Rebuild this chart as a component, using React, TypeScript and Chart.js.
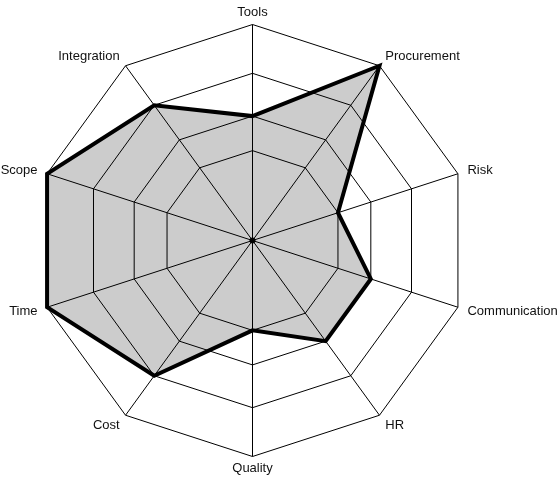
import React, { useEffect, useRef } from "react";
import { Chart, registerables, RadialLinearScale } from "chart.js";

Chart.register(...registerables);

// ---- data ----
const categories: string[] = [
  "Tools",
  "Procurement",
  "Risk",
  "Communication",
  "HR",
  "Quality",
  "Cost",
  "Time",
  "Scope",
  "Integration",
];
const scores: number[] = [2, 4, 1, 2, 2, 1, 3, 4, 4, 3];
const levelTicks: number[] = [0, 1, 2, 3, 4];

// ---- scale geometry (relative ring spacing of the levels, as drawn) ----
const RING_FRACTIONS = [0, 0.416, 0.576, 0.774, 1];
const CENTER_X = 252.5;
const CENTER_Y = 240.5;
const RADIUS = 216;
const LABEL_DX = 10;
const LABEL_DY = 12;

class LevelRadialScale extends RadialLinearScale {
  static id = "radialLevel";
  static defaults = RadialLinearScale.defaults;

  setCenterPoint() {
    (this as any).xCenter = (this as any).left + CENTER_X;
    (this as any).yCenter = (this as any).top + CENTER_Y;
    (this as any).drawingArea = RADIUS;
  }

  getDistanceFromCenterForValue(value: number) {
    if (value === null || value === undefined || isNaN(value)) return NaN;
    const fr = RING_FRACTIONS;
    const v = Math.max(0, Math.min(fr.length - 1, value));
    const i = Math.min(Math.floor(v), fr.length - 2);
    const t = v - i;
    return (fr[i] + (fr[i + 1] - fr[i]) * t) * (this as any).drawingArea;
  }

  fit() {
    super.fit();
    const self: any = this;
    const items = self._pointLabelItems;
    if (!items) return;
    const size = self.options.pointLabels.font.size || 13;
    const lh = size * 1.2;
    for (let i = 0; i < items.length; i++) {
      const a = self.getIndexAngle(i);
      const p = self.getPointPosition(i, self.drawingArea);
      const s = Math.sin(a);
      const c = Math.cos(a);
      const x = p.x + s * LABEL_DX;
      const mid = p.y - c * LABEL_DY;
      items[i].x = x;
      items[i].y = mid - lh / 2;
      items[i].textAlign = Math.abs(s) < 0.01 ? "center" : s > 0 ? "left" : "right";
      items[i].visible = true;
    }
  }
}
Chart.register(LevelRadialScale as any);

const centerDot = {
  id: "centerDot",
  afterDatasetsDraw(chart: any) {
    const s = chart.scales.r;
    const ctx = chart.ctx;
    ctx.save();
    ctx.beginPath();
    ctx.arc(s.xCenter, s.yCenter, 3, 0, Math.PI * 2);
    ctx.fillStyle = "#000";
    ctx.fill();
    ctx.restore();
  },
};

export default function App() {
  const ref = useRef<HTMLCanvasElement | null>(null);

  useEffect(() => {
    if (!ref.current) return;
    const chart = new Chart(ref.current, {
      type: "radar",
      data: {
        labels: categories,
        datasets: [
          {
            data: scores,
            backgroundColor: "rgba(0,0,0,0.2)",
            borderColor: "#000",
            borderWidth: 4,
            borderJoinStyle: "miter",
            pointRadius: 0,
            pointHoverRadius: 0,
            fill: true,
            tension: 0,
          },
        ],
      },
      options: {
        animation: false,
        responsive: false,
        devicePixelRatio: 1,
        layout: { padding: 0 },
        plugins: {
          legend: { display: false },
          tooltip: { enabled: false },
        },
        scales: {
          r: {
            type: "radialLevel" as any,
            min: 0,
            max: 4,
            afterBuildTicks: (scale: any) => {
              scale.ticks = levelTicks.map((v) => ({ value: v }));
            },
            ticks: { display: false, stepSize: 1 },
            grid: { color: "#000", lineWidth: 1 },
            angleLines: { display: true, color: "#000", lineWidth: 1 },
            pointLabels: {
              display: true,
              color: "#111",
              padding: 6,
              font: { family: '"Liberation Sans", Arial, sans-serif', size: 13 },
            },
          },
        },
      } as any,
      plugins: [centerDot],
    });
    return () => chart.destroy();
  }, []);

  return (
    <div style={{ position: "fixed", left: 0, top: 0, width: 560, height: 477, background: "#fff" }}>
      <canvas ref={ref} width={560} height={477} style={{ display: "block" }} />
    </div>
  );
}
